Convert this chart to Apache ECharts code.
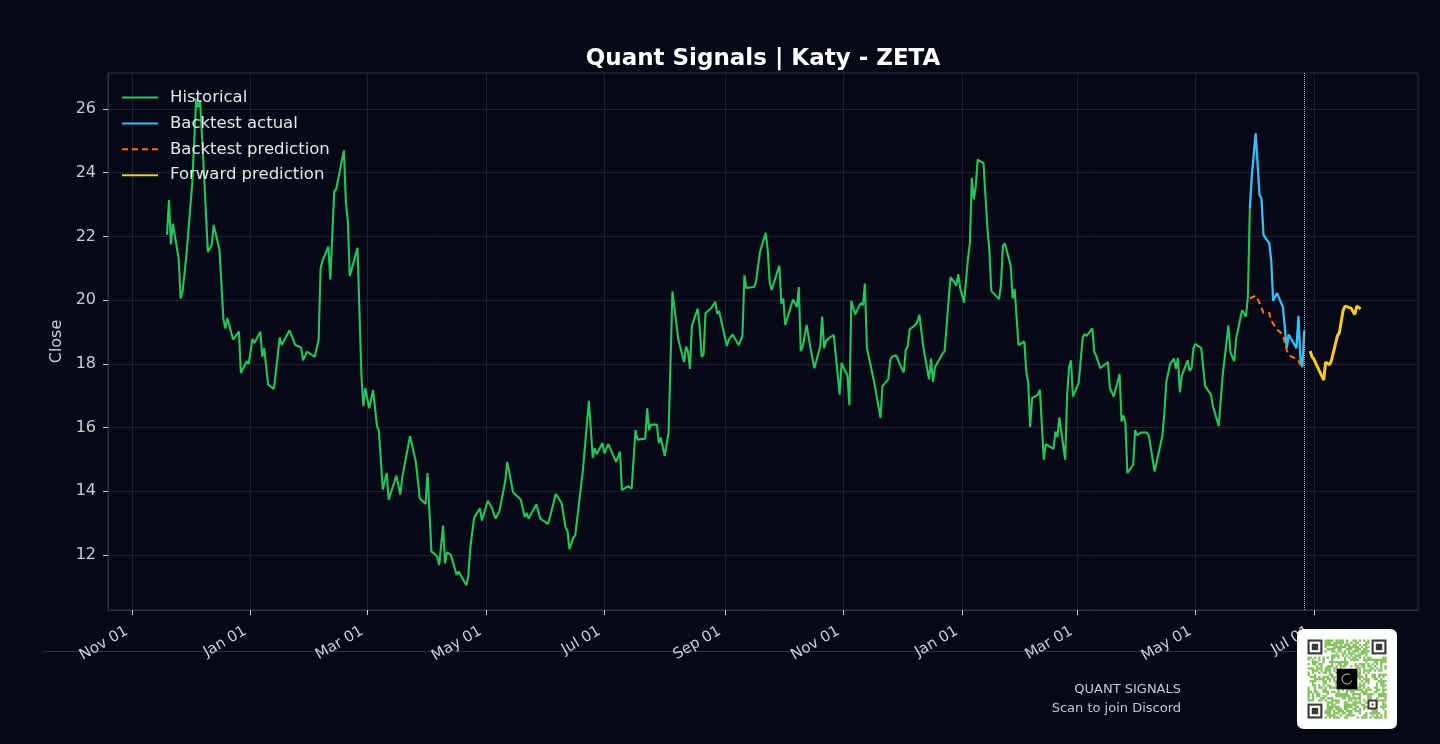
<!DOCTYPE html>
<html>
<head>
<meta charset="utf-8">
<title>Quant Signals | Katy - ZETA</title>
<script src="https://cdn.jsdelivr.net/npm/echarts@6/dist/echarts.min.js"></script>
<style>
  html, body { margin: 0; padding: 0; background: #050916; }
  #chart { width: 1440px; height: 744px; }
</style>
</head>
<body>
<div id="chart"></div>
<script>
// --- data ---
const histDates = [
  '2023-11-19','2023-11-20','2023-11-21','2023-11-22','2023-11-25','2023-11-26','2023-11-27','2023-11-29',
  '2023-12-02','2023-12-04','2023-12-05','2023-12-06','2023-12-08','2023-12-10','2023-12-11','2023-12-12',
  '2023-12-13','2023-12-16','2023-12-18','2023-12-19','2023-12-20','2023-12-23','2023-12-24','2023-12-26',
  '2023-12-27','2023-12-30','2023-12-31','2024-01-02','2024-01-03','2024-01-06','2024-01-07','2024-01-08',
  '2024-01-10','2024-01-13','2024-01-14','2024-01-16','2024-01-17','2024-01-21','2024-01-24','2024-01-27',
  '2024-01-28','2024-01-29','2024-01-30','2024-02-03','2024-02-05','2024-02-06','2024-02-07','2024-02-10',
  '2024-02-11','2024-02-13','2024-02-14','2024-02-18','2024-02-19','2024-02-20','2024-02-21','2024-02-25',
  '2024-02-27','2024-02-28','2024-02-29','2024-03-02','2024-03-04','2024-03-06','2024-03-07','2024-03-09',
  '2024-03-11','2024-03-12','2024-03-16','2024-03-18','2024-03-19','2024-03-20','2024-03-23','2024-03-24',
  '2024-03-26','2024-03-28','2024-03-31','2024-04-01','2024-04-03','2024-04-06','2024-04-07','2024-04-09',
  '2024-04-10','2024-04-11','2024-04-13','2024-04-14','2024-04-16','2024-04-17','2024-04-21','2024-04-22',
  '2024-04-23','2024-04-25','2024-04-28','2024-04-29','2024-05-02','2024-05-04','2024-05-06','2024-05-08',
  '2024-05-11','2024-05-12','2024-05-15','2024-05-16','2024-05-19','2024-05-21','2024-05-22','2024-05-23',
  '2024-05-27','2024-05-28','2024-05-29','2024-05-30','2024-06-02','2024-06-03','2024-06-04','2024-06-06',
  '2024-06-09','2024-06-11','2024-06-12','2024-06-13','2024-06-15','2024-06-16','2024-06-17','2024-06-20',
  '2024-06-23','2024-06-25','2024-06-26','2024-06-27','2024-06-30','2024-07-01','2024-07-03','2024-07-07',
  '2024-07-09','2024-07-10','2024-07-13','2024-07-15','2024-07-17','2024-07-18','2024-07-22','2024-07-23',
  '2024-07-24','2024-07-25','2024-07-28','2024-07-29','2024-07-30','2024-08-01','2024-08-03','2024-08-04',
  '2024-08-05','2024-08-08','2024-08-11','2024-08-12','2024-08-13','2024-08-14','2024-08-15','2024-08-18',
  '2024-08-19','2024-08-20','2024-08-21','2024-08-22','2024-08-25','2024-08-27','2024-08-28','2024-08-29',
  '2024-09-02','2024-09-03','2024-09-04','2024-09-05','2024-09-08','2024-09-10','2024-09-11','2024-09-12',
  '2024-09-16','2024-09-17','2024-09-19','2024-09-22','2024-09-23','2024-09-24','2024-09-25','2024-09-29',
  '2024-09-30','2024-10-01','2024-10-02','2024-10-03','2024-10-06','2024-10-08','2024-10-09','2024-10-10',
  '2024-10-11','2024-10-13','2024-10-15','2024-10-17','2024-10-20','2024-10-21','2024-10-22','2024-10-23',
  '2024-10-25','2024-10-27','2024-10-28','2024-10-30','2024-10-31','2024-11-02','2024-11-03','2024-11-04',
  '2024-11-05','2024-11-07','2024-11-09','2024-11-10','2024-11-11','2024-11-12','2024-11-13','2024-11-14',
  '2024-11-17','2024-11-18','2024-11-20','2024-11-21','2024-11-24','2024-11-25','2024-11-26','2024-11-28',
  '2024-12-01','2024-12-02','2024-12-03','2024-12-04','2024-12-05','2024-12-08','2024-12-09','2024-12-10',
  '2024-12-11','2024-12-12','2024-12-15','2024-12-16','2024-12-17','2024-12-18','2024-12-22','2024-12-23',
  '2024-12-26','2024-12-28','2024-12-29','2024-12-30','2024-12-31','2025-01-02','2025-01-04','2025-01-05',
  '2025-01-06','2025-01-07','2025-01-08','2025-01-09','2025-01-10','2025-01-12','2025-01-14','2025-01-15',
  '2025-01-16','2025-01-20','2025-01-21','2025-01-22','2025-01-23','2025-01-26','2025-01-27','2025-01-28',
  '2025-01-30','2025-02-02','2025-02-03','2025-02-04','2025-02-05','2025-02-06','2025-02-09','2025-02-10',
  '2025-02-12','2025-02-13','2025-02-17','2025-02-18','2025-02-19','2025-02-20','2025-02-23','2025-02-24',
  '2025-02-25','2025-02-26','2025-02-27','2025-03-02','2025-03-04','2025-03-05','2025-03-06','2025-03-09',
  '2025-03-10','2025-03-11','2025-03-13','2025-03-17','2025-03-18','2025-03-19','2025-03-20','2025-03-23',
  '2025-03-24','2025-03-25','2025-03-26','2025-03-27','2025-03-30','2025-03-31','2025-04-01','2025-04-03',
  '2025-04-06','2025-04-07','2025-04-08','2025-04-10','2025-04-14','2025-04-15','2025-04-16','2025-04-17',
  '2025-04-18','2025-04-20','2025-04-21','2025-04-22','2025-04-23','2025-04-24','2025-04-27','2025-04-28',
  '2025-04-29','2025-04-30','2025-05-01','2025-05-04','2025-05-06','2025-05-07','2025-05-09','2025-05-10',
  '2025-05-13','2025-05-15','2025-05-18','2025-05-19','2025-05-20','2025-05-21','2025-05-22','2025-05-25',
  '2025-05-26','2025-05-27','2025-05-28','2025-05-29'
];
const histValues = [
  22.05,23.14,21.75,22.40,21.30,20.05,20.27,21.41,
  23.68,26.32,26.05,26.27,24.00,21.51,21.57,21.73,
  22.36,21.57,19.41,19.11,19.44,18.76,18.81,19.01,
  17.71,18.08,18.00,18.78,18.65,19.01,18.22,18.49,
  17.35,17.21,17.24,18.83,18.59,19.05,18.59,18.51,
  18.11,18.05,18.38,18.22,18.76,20.99,21.24,21.68,
  20.65,23.41,23.48,24.70,23.08,22.49,20.76,21.64,
  17.62,16.67,17.24,16.60,17.17,16.05,15.89,14.05,
  14.57,13.73,14.49,13.89,14.43,14.49,15.73,15.76,
  14.92,13.78,13.60,14.57,12.11,11.95,11.68,12.92,
  11.73,12.08,12.00,12.00,11.37,11.48,11.05,11.35,
  12.22,13.17,13.46,13.08,13.70,13.49,13.14,13.38,
  14.32,14.92,13.97,13.95,13.73,13.19,13.32,13.14,
  13.59,13.54,13.14,13.16,12.97,13.19,13.24,13.92,
  13.62,12.86,12.76,12.18,12.54,12.62,12.60,14.70,
  16.84,15.05,15.35,15.16,15.51,15.19,15.48,14.92,
  15.24,14.03,14.16,14.08,15.92,15.62,15.65,16.60,
  15.92,16.09,16.09,15.51,15.68,15.11,15.84,15.89,
  20.27,18.76,18.05,18.54,18.38,17.84,19.19,19.73,
  19.14,18.22,18.29,19.59,19.75,19.95,19.57,19.65,
  18.56,18.76,18.70,18.92,18.59,18.87,20.78,20.38,
  20.41,20.59,21.51,22.11,21.57,20.56,20.32,21.08,
  19.89,20.05,19.22,19.41,20.02,19.78,20.41,18.40,
  18.54,19.22,18.49,17.86,18.54,19.48,18.49,18.72,
  18.83,18.90,18.27,17.03,18.03,17.75,17.64,16.70,
  19.98,19.55,19.81,19.91,19.84,20.52,18.51,18.49,
  17.35,17.35,16.30,17.30,17.51,18.11,18.22,18.27,
  17.84,17.73,18.43,18.54,19.08,19.22,19.33,19.54,
  19.54,18.54,17.51,18.16,17.43,17.89,18.32,18.40,
  20.72,20.56,20.45,20.81,20.38,19.92,21.30,21.78,
  23.84,23.16,23.57,24.41,24.41,24.30,22.27,21.57,
  20.29,20.03,20.49,21.71,21.78,21.08,20.05,20.35,
  18.59,18.70,17.75,17.41,16.02,16.92,17.03,17.19,
  14.99,15.48,15.33,15.87,15.70,16.32,14.99,16.99,
  17.89,18.11,16.97,17.41,18.81,18.94,18.87,19.11,
  18.36,18.25,17.86,18.05,17.24,17.27,16.97,17.68,
  16.19,16.38,16.13,14.57,14.83,15.92,15.76,15.84,
  15.84,15.76,15.73,14.62,15.73,16.43,17.41,17.46,
  18.00,18.16,17.84,18.18,17.10,17.62,18.11,17.78,
  17.86,18.49,18.62,18.49,17.30,17.32,17.03,16.67,
  16.05,17.62,19.21,18.36,18.36,18.08,18.81,19.68,
  19.68,19.48,20.11,22.87
];

const backActualDates = [
  '2025-05-29','2025-05-30','2025-06-01','2025-06-02','2025-06-03','2025-06-04','2025-06-05',
  '2025-06-08','2025-06-09','2025-06-10','2025-06-12','2025-06-15','2025-06-16','2025-06-17',
  '2025-06-18','2025-06-19','2025-06-22','2025-06-23','2025-06-24','2025-06-25','2025-06-26'
];
const backActualValues = [
  22.87,23.89,25.24,25.28,23.30,23.19,22.05,
  21.78,21.24,19.98,20.22,19.78,19.73,18.49,
  18.92,18.81,18.49,19.51,18.16,17.89,19.05
];

const backPredDates = [
  '2025-05-29','2025-06-01','2025-06-03','2025-06-05','2025-06-08','2025-06-09','2025-06-12',
  '2025-06-15','2025-06-17','2025-06-18','2025-06-21','2025-06-23','2025-06-24','2025-06-26'
];
const backPredValues = [
  20.05,20.14,19.91,19.60,19.60,19.35,19.08,
  18.92,18.43,18.27,18.18,18.11,17.97,18.05
];

const forwardDates = [
  '2025-06-29','2025-06-30','2025-07-01','2025-07-02','2025-07-06','2025-07-07','2025-07-08',
  '2025-07-09','2025-07-10','2025-07-13','2025-07-14','2025-07-16','2025-07-17','2025-07-20',
  '2025-07-22','2025-07-23','2025-07-25'
];
const forwardValues = [
  18.40,18.22,18.14,18.18,17.49,18.05,18.11,
  17.97,18.11,18.87,18.97,19.68,19.81,19.75,
  19.55,19.81,19.73
];

const cutoffDate = '2025-06-26';

const xTicks = [
  '2023-11-01','2024-01-01','2024-03-01','2024-05-01','2024-07-01','2024-09-01',
  '2024-11-01','2025-01-01','2025-03-01','2025-05-01','2025-07-01'
];
const yTicks = [12, 14, 16, 18, 20, 22, 24, 26];
const monthNames = ['Jan','Feb','Mar','Apr','May','Jun','Jul','Aug','Sep','Oct','Nov','Dec'];

// --- helpers ---
function ts(s) { return +new Date(s.length > 10 ? s : s + 'T00:00:00'); }
function pairs(dates, values) { return dates.map((d, i) => [ts(d), values[i]]); }

function roundRectPath(g, x, y, w, h, r) {
  g.beginPath();
  g.moveTo(x + r, y);
  g.lineTo(x + w - r, y); g.quadraticCurveTo(x + w, y, x + w, y + r);
  g.lineTo(x + w, y + h - r); g.quadraticCurveTo(x + w, y + h, x + w - r, y + h);
  g.lineTo(x + r, y + h); g.quadraticCurveTo(x, y + h, x, y + h - r);
  g.lineTo(x, y + r); g.quadraticCurveTo(x, y, x + r, y);
  g.closePath();
}

// decorative QR badge (pattern only, not chart data)
function makeQrCanvas() {
  const c = document.createElement('canvas');
  c.width = 100; c.height = 100;
  const g = c.getContext('2d');
  g.fillStyle = '#ffffff';
  roundRectPath(g, 0, 0, 100, 100, 7);
  g.fill();
  const n = 37, off = 10.5, cell = 79 / n;
  let seed = 0x2f6b3a91;
  const rnd = () => { seed ^= seed << 13; seed ^= seed >>> 17; seed ^= seed << 5; return (seed >>> 0) / 4294967296; };
  const inFinder = (i, j) => (i < 8 && j < 8) || (i < 8 && j > n - 9) || (i > n - 9 && j < 8);
  g.fillStyle = '#86c062';
  for (let i = 0; i < n; i++) {
    for (let j = 0; j < n; j++) {
      const v = rnd();
      if (inFinder(i, j)) continue;
      if (v < 0.55) g.fillRect(off + j * cell, off + i * cell, cell + 0.2, cell + 0.2);
    }
  }
  function finder(x, y, s) {
    g.fillStyle = '#3a3a3a'; g.fillRect(x, y, s, s);
    g.fillStyle = '#ffffff'; g.fillRect(x + s / 7, y + s / 7, s * 5 / 7, s * 5 / 7);
    g.fillStyle = '#3a3a3a'; g.fillRect(x + 2 * s / 7, y + 2 * s / 7, s * 3 / 7, s * 3 / 7);
  }
  finder(off, off, 7 * cell);
  finder(off + (n - 7) * cell, off, 7 * cell);
  finder(off, off + (n - 7) * cell, 7 * cell);
  // alignment pattern
  g.fillStyle = '#3a3a3a'; g.fillRect(70.5, 70.5, 10, 10);
  g.fillStyle = '#ffffff'; g.fillRect(72.5, 72.5, 6, 6);
  g.fillStyle = '#3a3a3a'; g.fillRect(74.5, 74.5, 2, 2);
  // centre logo
  g.fillStyle = '#000000'; g.fillRect(39.7, 39.7, 20.6, 20.6);
  g.strokeStyle = '#d8d8d8'; g.lineWidth = 1;
  g.beginPath(); g.arc(50, 50, 5, 0.3, Math.PI * 1.7); g.stroke();
  return c;
}

const textColor = '#c9cdd5';
const gridColor = '#1d2331';
const spineColor = '#2c3342';

const chart = echarts.init(document.getElementById('chart'), null, { renderer: 'canvas' });

const option = {
  backgroundColor: '#050916',
  animation: false,
  textStyle: { fontFamily: 'DejaVu Sans' },
  title: {
    text: 'Quant Signals | Katy - ZETA',
    left: 758, top: 43, textAlign: 'center',
    textStyle: { color: '#ffffff', fontSize: 23, fontWeight: 'bold', fontFamily: 'DejaVu Sans' }
  },
  legend: {
    orient: 'vertical', left: 116, top: 84,
    itemWidth: 36, itemHeight: 14, itemGap: 8.9,
    itemStyle: { opacity: 0 },
    textStyle: { color: '#e4e6ea', fontSize: 16.5, padding: [0, 0, 0, 7] },
    data: ['Historical', 'Backtest actual', 'Backtest prediction', 'Forward prediction']
  },
  grid: {
    left: 108, right: 22, top: 73, bottom: 134,
    show: true, borderColor: spineColor, borderWidth: 1, backgroundColor: 'transparent'
  },
  xAxis: {
    type: 'value',
    min: ts('2023-10-19T15:30:00'), max: ts('2025-08-23T12:00:00'),
    axisLine: { show: true, lineStyle: { color: spineColor } },
    axisTick: { show: true, length: 5, customValues: xTicks.map(ts), lineStyle: { color: textColor } },
    axisLabel: {
      customValues: xTicks.map(ts),
      rotate: 30, margin: 17, color: textColor, fontSize: 15,
      padding: [0, 6, 0, 0],
      formatter: function (v) {
        const d = new Date(v);
        return monthNames[d.getMonth()] + ' ' + String(d.getDate()).padStart(2, '0');
      }
    },
    splitLine: { show: true, lineStyle: { color: gridColor, width: 1 } }
  },
  yAxis: {
    type: 'value',
    min: 10.27, max: 27.13,
    name: 'Close', nameLocation: 'middle', nameGap: 42,
    nameTextStyle: { color: textColor, fontSize: 16 },
    axisLine: { show: true, lineStyle: { color: spineColor } },
    axisTick: { show: true, length: 5, customValues: yTicks, lineStyle: { color: textColor } },
    axisLabel: { customValues: yTicks, color: textColor, fontSize: 16, margin: 12 },
    splitLine: { show: true, lineStyle: { color: gridColor, width: 1 } }
  },
  series: [
    {
      name: 'Historical', type: 'line', symbol: 'none', z: 2,
      data: pairs(histDates, histValues),
      lineStyle: { color: '#22c55e', width: 2.1 }, itemStyle: { color: '#22c55e' }
    },
    {
      name: 'Backtest actual', type: 'line', symbol: 'none', z: 3,
      data: pairs(backActualDates, backActualValues),
      lineStyle: { color: '#38bdf8', width: 2.3 }, itemStyle: { color: '#38bdf8' },
      markLine: {
        silent: true, symbol: ['none', 'none'], label: { show: false },
        lineStyle: { color: '#b9bec8', type: 'dotted', width: 1 },
        data: [{ xAxis: ts(cutoffDate) }]
      }
    },
    {
      name: 'Backtest prediction', type: 'line', symbol: 'none', z: 4,
      data: pairs(backPredDates, backPredValues),
      lineStyle: { color: '#f97316', width: 2, type: [6, 4] }, itemStyle: { color: '#f97316' }
    },
    {
      name: 'Forward prediction', type: 'line', symbol: 'none', z: 5,
      data: pairs(forwardDates, forwardValues),
      lineStyle: { color: '#facc15', width: 3 }, itemStyle: { color: '#facc15' }
    }
  ],
  graphic: [
    {
      type: 'line', z: 0, silent: true,
      shape: { x1: 43, y1: 651.5, x2: 1300, y2: 651.5 },
      style: { stroke: '#2a303c', lineWidth: 1 }
    },
    {
      type: 'text', silent: true, x: 1181, y: 690,
      style: { text: 'QUANT SIGNALS', fill: '#c4c8d0', font: '13px "DejaVu Sans"', align: 'right', verticalAlign: 'middle' }
    },
    {
      type: 'text', silent: true, x: 1181, y: 709,
      style: { text: 'Scan to join Discord', fill: '#c4c8d0', font: '13px "DejaVu Sans"', align: 'right', verticalAlign: 'middle' }
    },
    {
      type: 'image', silent: true, x: 1297, y: 629, z: 10,
      style: { image: makeQrCanvas(), width: 100, height: 100 }
    }
  ]
};

chart.setOption(option);
</script>
</body>
</html>
